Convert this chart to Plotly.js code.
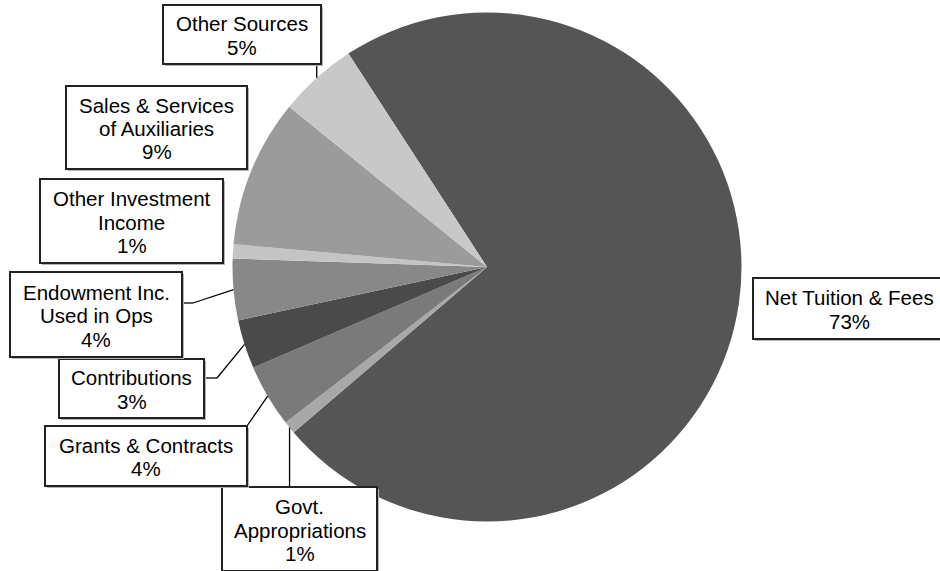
<!DOCTYPE html>
<html>
<head>
<meta charset="utf-8">
<script src="https://cdn.plot.ly/plotly-3.0.1.min.js"></script>
<style>html,body{margin:0;padding:0;background:#fff;}#chart{width:940px;height:571px;}</style>
</head>
<body>
<div id="chart"></div>
<script>
// ---- data ----
const categories = ["Net Tuition & Fees", "Govt. Appropriations", "Grants & Contracts", "Contributions",
  "Endowment Inc. Used in Ops", "Other Investment Income", "Sales & Services of Auxiliaries", "Other Sources"];
const labelLines = [["Net Tuition & Fees"], ["Govt.", "Appropriations"], ["Grants & Contracts"], ["Contributions"],
  ["Endowment Inc.", "Used in Ops"], ["Other Investment", "Income"], ["Sales & Services", "of Auxiliaries"], ["Other Sources"]];
const values = [72.9, 0.8, 4.0, 3.1, 3.9, 0.9, 9.4, 5.0];
const colors = ["#555555", "#a8a8a8", "#7a7a7a", "#4a4a4a", "#888888", "#c4c4c4", "#9b9b9b", "#c8c8c8"];

// ---- layout geometry (pixels) ----
const W = 940, H = 571;
const CX = 487, CY = 267, R = 254.5;
const ROT = -33;
const LINE_H = 23.5;
// label boxes: [left, top, right, bottom]
const boxes = [
  [753, 278, 945, 339],
  [222, 487, 377, 571],
  [45, 426, 247, 486],
  [59, 359, 204, 418],
  [10, 272, 182, 357],
  [40, 179, 223, 263],
  [66, 86, 247, 169],
  [163, 5, 321, 64]
];
const leaders = [
  null,
  {vertTo: 487},
  {pts: [[247, 426]]},
  {pts: [[217, 378], [204, 378]]},
  {pts: [[193, 303], [182, 303]]},
  null,
  null,
  {vertTo: 64}
];

const px = x => x / W;
const py = y => 1 - y / H;

const total = values.reduce((a, b) => a + b, 0);
const shapes = [];
const annotations = [];
let cum = 0;
values.forEach((v, i) => {
  const mid = ROT + (cum + v / 2) / total * 360;
  cum += v;
  const a = mid * Math.PI / 180;
  const ex = CX + R * Math.sin(a), ey = CY - R * Math.cos(a);
  const L = leaders[i];
  if (L) {
    let pts = [[ex, ey]];
    if (L.vertTo !== undefined) pts.push([ex, L.vertTo]);
    else pts = pts.concat(L.pts);
    for (let k = 0; k < pts.length - 1; k++) {
      shapes.push({type: 'line', xref: 'paper', yref: 'paper',
        x0: px(pts[k][0]), y0: py(pts[k][1]), x1: px(pts[k + 1][0]), y1: py(pts[k + 1][1]),
        line: {color: '#000', width: 1.3}});
    }
  }
  const b = boxes[i];
  shapes.push({type: 'rect', xref: 'paper', yref: 'paper',
    x0: px(b[0] + 2), y0: py(b[3] + 2), x1: px(b[2] + 2), y1: py(b[1] + 2),
    fillcolor: '#b4b4b4', line: {width: 0}, layer: 'above'});
  shapes.push({type: 'rect', xref: 'paper', yref: 'paper',
    x0: px(b[0]), y0: py(b[3]), x1: px(b[2]), y1: py(b[1]),
    fillcolor: '#ffffff', line: {color: '#222', width: 2}, layer: 'above'});
  const lines = labelLines[i].concat([Math.round(v / total * 100) + '%']);
  const cyb = (b[1] + b[3]) / 2;
  lines.forEach((t, k) => {
    const yy = cyb + (k - (lines.length - 1) / 2) * LINE_H + 1;
    annotations.push({xref: 'paper', yref: 'paper', x: px((b[0] + b[2]) / 2), y: py(yy),
      xanchor: 'center', yanchor: 'middle', showarrow: false, text: t,
      font: {family: 'Liberation Sans, Arial, sans-serif', size: 20.5, color: '#000'}});
  });
});

const trace = {
  type: 'pie',
  labels: categories,
  values: values,
  sort: false,
  direction: 'clockwise',
  rotation: ROT,
  textinfo: 'none',
  hoverinfo: 'none',
  marker: {colors: colors, line: {width: 0}},
  domain: {x: [(CX - R) / W, (CX + R) / W], y: [(H - CY - R) / H, (H - CY + R) / H]}
};

Plotly.newPlot('chart', [trace], {
  width: W, height: H,
  margin: {l: 0, r: 0, t: 0, b: 0},
  showlegend: false,
  paper_bgcolor: '#fff',
  shapes: shapes,
  annotations: annotations
}, {displayModeBar: false, staticPlot: true});
</script>
</body>
</html>
